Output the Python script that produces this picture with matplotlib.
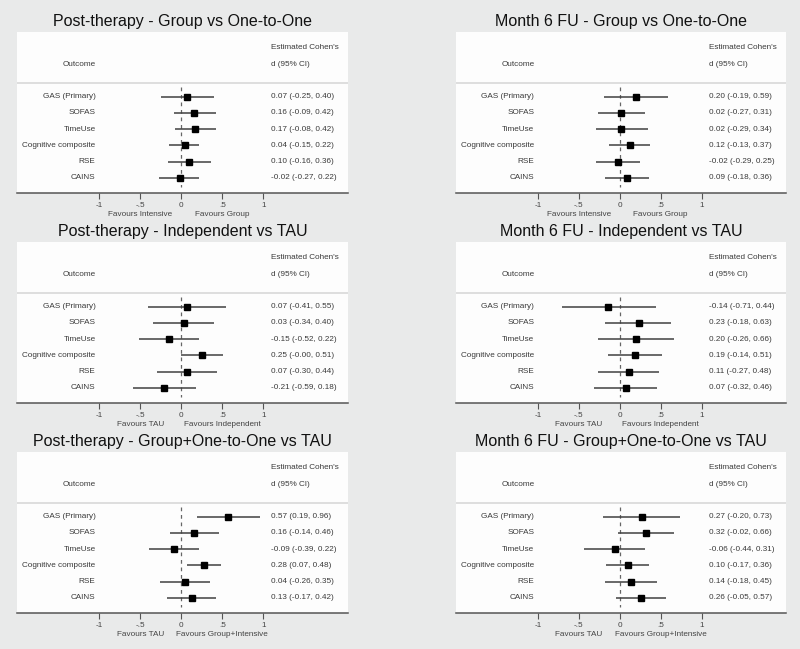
import matplotlib
matplotlib.use("Agg")
import matplotlib.pyplot as plt
import matplotlib.transforms as mtransforms

plt.rcParams['font.family'] = ['Liberation Sans', 'DejaVu Sans']

outcomes = ["GAS (Primary)", "SOFAS", "TimeUse", "Cognitive composite", "RSE", "CAINS"]

titles = [
    "Post-therapy - Group vs One-to-One",
    "Month 6 FU - Group vs One-to-One",
    "Post-therapy - Independent vs TAU",
    "Month 6 FU - Independent vs TAU",
    "Post-therapy - Group+One-to-One vs TAU",
    "Month 6 FU - Group+One-to-One vs TAU",
]

favours_left = ["Favours Intensive", "Favours Intensive", "Favours TAU", "Favours TAU", "Favours TAU", "Favours TAU"]
favours_right = ["Favours Group", "Favours Group", "Favours Independent", "Favours Independent",
                 "Favours Group+Intensive", "Favours Group+Intensive"]

# estimate, lower, upper per panel
est_p1 = [0.07, 0.16, 0.17, 0.04, 0.10, -0.02]
lo_p1 = [-0.25, -0.09, -0.08, -0.15, -0.16, -0.27]
hi_p1 = [0.40, 0.42, 0.42, 0.22, 0.36, 0.22]

est_p2 = [0.20, 0.02, 0.02, 0.12, -0.02, 0.09]
lo_p2 = [-0.19, -0.27, -0.29, -0.13, -0.29, -0.18]
hi_p2 = [0.59, 0.31, 0.34, 0.37, 0.25, 0.36]

est_p3 = [0.07, 0.03, -0.15, 0.25, 0.07, -0.21]
lo_p3 = [-0.41, -0.34, -0.52, -0.0, -0.30, -0.59]
hi_p3 = [0.55, 0.40, 0.22, 0.51, 0.44, 0.18]

est_p4 = [-0.14, 0.23, 0.20, 0.19, 0.11, 0.07]
lo_p4 = [-0.71, -0.18, -0.26, -0.14, -0.27, -0.32]
hi_p4 = [0.44, 0.63, 0.66, 0.51, 0.48, 0.46]

est_p5 = [0.57, 0.16, -0.09, 0.28, 0.04, 0.13]
lo_p5 = [0.19, -0.14, -0.39, 0.07, -0.26, -0.17]
hi_p5 = [0.96, 0.46, 0.22, 0.48, 0.35, 0.42]

est_p6 = [0.27, 0.32, -0.06, 0.10, 0.14, 0.26]
lo_p6 = [-0.20, -0.02, -0.44, -0.17, -0.18, -0.05]
hi_p6 = [0.73, 0.66, 0.31, 0.36, 0.45, 0.57]

panels = [(est_p1, lo_p1, hi_p1), (est_p2, lo_p2, hi_p2), (est_p3, lo_p3, hi_p3),
          (est_p4, lo_p4, hi_p4), (est_p5, lo_p5, hi_p5), (est_p6, lo_p6, hi_p6)]

tick_vals = [-1, -0.5, 0, 0.5, 1]
tick_labels = ["-1", "-.5", "0", ".5", "1"]

W, H = 800, 649
bg = "#e9eaea"
box = "#fdfdfd"
txt = "#3a3a3a"
fs = 5.9

fig = plt.figure(figsize=(W / 100, H / 100), dpi=100, facecolor=bg)

col_left = [17, 456]
col_width = [331, 330]
row_top = [31.7, 241.7, 451.7]
box_h = 161.3

for k in range(6):
    r, c = k // 2, k % 2
    est, lo, hi = panels[k]
    left = col_left[c] / W
    bottom = 1 - (row_top[r] + box_h) / H
    ax = fig.add_axes([left, bottom, col_width[c] / W, box_h / H])
    ax.set_facecolor(box)
    ax.set_xlim(-2.0, 2.03)
    ax.set_ylim(5.94, -4.0)
    for s in ["top", "left", "right"]:
        ax.spines[s].set_visible(False)
    ax.spines["bottom"].set_color("#555555")
    ax.spines["bottom"].set_linewidth(1.1)
    ax.set_yticks([])
    ax.set_xticks(tick_vals)
    ax.set_xticklabels(tick_labels)
    ax.tick_params(axis="x", length=4, width=0.8, color="#555555", labelsize=fs,
                   labelcolor="#444444", pad=2.4)

    # header separator
    ax.axhline(-0.85, color="#dedede", lw=1.4)
    ax.text(-1.044, -2.0, "Outcome", ha="right", va="center", fontsize=fs, color=txt)
    ax.text(1.09, -3.0, "Estimated Cohen's", ha="left", va="center", fontsize=fs, color=txt)
    ax.text(1.09, -2.0, "d (95% CI)", ha="left", va="center", fontsize=fs, color=txt)

    ax.plot([0, 0], [-0.6, 5.6], color="#666666", lw=0.9, ls=(0, (3, 3)))

    for i, name in enumerate(outcomes):
        ax.plot([lo[i], hi[i]], [i, i], color="#404040", lw=1.1, solid_capstyle="butt")
        ax.plot(est[i], i, marker="s", ms=4.8, color="black", mec="black")
        ax.text(-1.044, i, name, ha="right", va="center", fontsize=fs, color=txt)
        ax.text(1.09, i, f"{est[i]:.2f} ({lo[i]:.2f}, {hi[i]:.2f})", ha="left", va="center",
                fontsize=fs, color=txt)

    trans = mtransforms.blended_transform_factory(ax.transData, ax.transAxes)
    ax.text(-0.5, -21 / box_h, favours_left[k], transform=trans, ha="center", va="center",
            fontsize=fs, color="#444444")
    ax.text(0.5, -21 / box_h, favours_right[k], transform=trans, ha="center", va="center",
            fontsize=fs, color="#444444")

    ax.text(0.5, 1 + 10 / box_h, titles[k], transform=ax.transAxes, ha="center", va="center",
            fontsize=11.5, color="#111111")

fig.savefig("out.png", dpi=100, facecolor=bg)
